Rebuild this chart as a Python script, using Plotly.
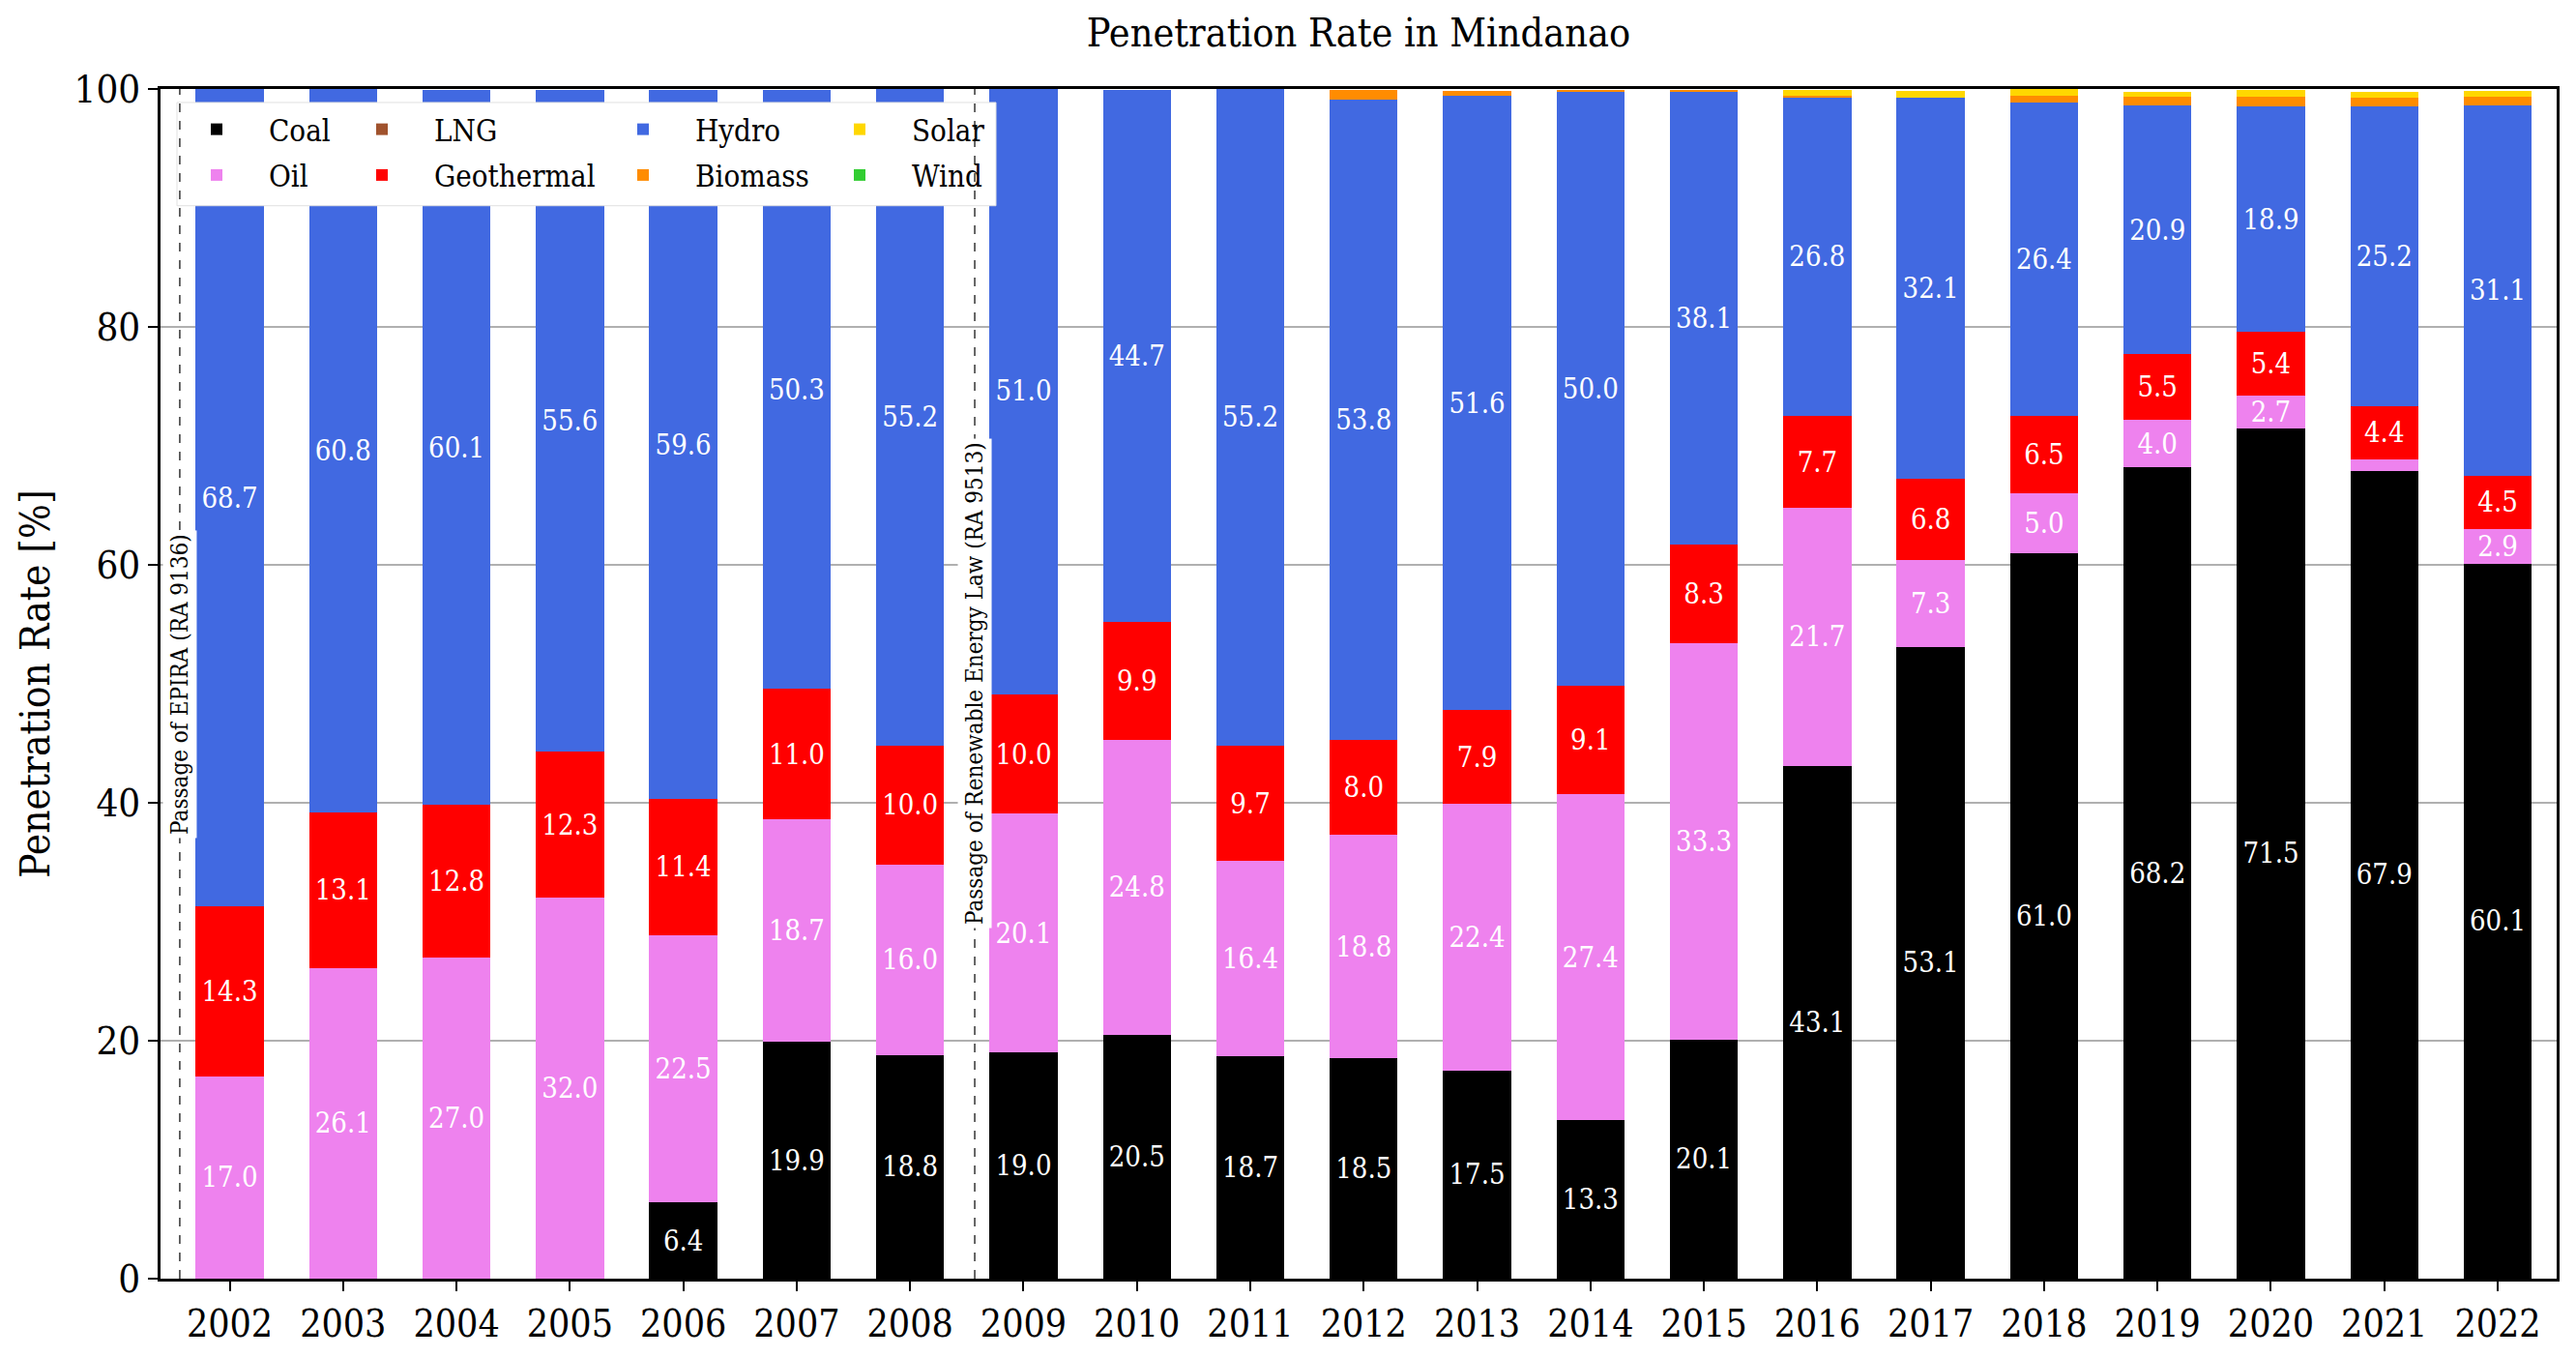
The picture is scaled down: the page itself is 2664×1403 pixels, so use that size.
import plotly.graph_objects as go

years = list(range(2002, 2023))
coal = [0, 0, 0, 0, 6.4, 19.9, 18.8, 19.0, 20.5, 18.7, 18.5, 17.5, 13.3, 20.1, 43.1, 53.1, 61.0, 68.2, 71.5, 67.9, 60.1]
oil = [17.0, 26.1, 27.0, 32.0, 22.5, 18.7, 16.0, 20.1, 24.8, 16.4, 18.8, 22.4, 27.4, 33.3, 21.7, 7.3, 5.0, 4.0, 2.7, 1.0, 2.9]
lng = [0] * 21
geothermal = [14.3, 13.1, 12.8, 12.3, 11.4, 11.0, 10.0, 10.0, 9.9, 9.7, 8.0, 7.9, 9.1, 8.3, 7.7, 6.8, 6.5, 5.5, 5.4, 4.4, 4.5]
hydro = [68.7, 60.8, 60.1, 55.6, 59.6, 50.3, 55.2, 51.0, 44.7, 55.2, 53.8, 51.6, 50.0, 38.1, 26.8, 32.1, 26.4, 20.9, 18.9, 25.2, 31.1]
biomass = [0, 0, 0, 0, 0, 0, 0, 0, 0, 0, 0.8, 0.4, 0.15, 0.15, 0.1, 0, 0.57, 0.73, 0.81, 0.73, 0.73]
solar = [0, 0, 0, 0, 0, 0, 0, 0, 0, 0, 0, 0, 0, 0, 0.5, 0.55, 0.55, 0.46, 0.62, 0.54, 0.54]
wind = [0] * 21

series = [
    ("Coal", coal, "#000000", "legend"),
    ("Oil", oil, "#ee82ee", "legend"),
    ("LNG", lng, "#a0522d", "legend2"),
    ("Geothermal", geothermal, "#ff0000", "legend2"),
    ("Hydro", hydro, "#4169e1", "legend3"),
    ("Biomass", biomass, "#ff8c00", "legend3"),
    ("Solar", solar, "#ffd700", "legend4"),
    ("Wind", wind, "#32cd32", "legend4"),
]

events_x = [2001.56, 2008.57]
events_text = ["Passage of EPIRA (RA 9136)", "Passage of Renewable Energy Law (RA 9513)"]

FONT = "DejaVu Serif Condensed, DejaVu Serif, serif"

fig = go.Figure()
for name, vals, color, leg in series:
    txt = [f"{v:.1f}" if v > 2 else "" for v in vals]
    fig.add_trace(go.Bar(
        x=years, y=vals, name=name, width=0.6,
        marker=dict(color=color, line=dict(width=0)),
        text=txt, textposition="inside", insidetextanchor="middle",
        textangle=0, textfont=dict(color="white", size=29, family=FONT),
        legend=leg, legendgroup=name, hoverinfo="skip",
    ))

W, H = 2664, 1403
L, R, T, B = 166, 20, 92, 78
pw = W - L - R
ph = H - T - B

def px2paperx(px):
    return (px - L) / pw

def py2papery(py):
    return 1 - (py - T) / ph

legend_cols = [170, 341, 611, 835]
leg_common = dict(
    font=dict(family=FONT, size=31, color="black"),
    bgcolor="rgba(0,0,0,0)", borderwidth=0,
    orientation="v", xanchor="left", yanchor="top",
    traceorder="grouped", tracegroupgap=4, itemwidth=98,
    y=py2papery(107),
)
layout_legends = {}
for i, cx in enumerate(legend_cols):
    key = "legend" if i == 0 else f"legend{i+1}"
    layout_legends[key] = dict(leg_common, x=px2paperx(cx))

shapes = []
# legend background box
bx0, bx1, by0, by1 = 183, 1030, 106, 213
shapes.append(dict(type="rect", xref="paper", yref="paper",
                   x0=px2paperx(bx0), x1=px2paperx(bx1),
                   y0=py2papery(by1), y1=py2papery(by0),
                   fillcolor="white", line=dict(color="#e0e0e0", width=1), layer="above"))
for ex in events_x:
    shapes.append(dict(type="line", xref="x", yref="y", x0=ex, x1=ex, y0=0, y1=100,
                       line=dict(color="black", width=1.2, dash="dash"), layer="above"))

annotations = []
for ex, et in zip(events_x, events_text):
    annotations.append(dict(x=ex, y=50, xref="x", yref="y", text=et, showarrow=False,
                            textangle=-90, bgcolor="white", borderpad=3,
                            font=dict(family=FONT, size=24, color="black")))

fig.update_layout(
    width=W, height=H,
    margin=dict(l=L, r=R, t=T, b=B),
    barmode="stack",
    plot_bgcolor="white", paper_bgcolor="white",
    title=dict(text="Penetration Rate in Mindanao", x=(L + pw / 2) / W, xanchor="center",
               y=1 - 34 / H, yanchor="middle",
               font=dict(family=FONT, size=41, color="black")),
    font=dict(family=FONT, color="black"),
    shapes=shapes, annotations=annotations,
    uniformtext=dict(minsize=29, mode="show"),
    **layout_legends,
)
fig.update_xaxes(range=[2001.39, 2022.52], tickmode="array", tickvals=years,
                 ticktext=[str(y) for y in years], tickfont=dict(family=FONT, size=39),
                 ticks="outside", ticklen=10, tickwidth=2, tickcolor="black",
                 showline=True, linecolor="black", linewidth=2.5, mirror=True,
                 showgrid=False, zeroline=False)
fig.update_yaxes(range=[0, 100], tickvals=[0, 20, 40, 60, 80, 100],
                 tickfont=dict(family=FONT, size=40),
                 ticks="outside", ticklen=10, tickwidth=2, tickcolor="black",
                 showline=True, linecolor="black", linewidth=2.5, mirror=True,
                 showgrid=True, gridcolor="#b0b0b0", gridwidth=1.6, zeroline=False,
                 title=dict(text="Penetration Rate [%]", font=dict(family=FONT, size=42), standoff=12))

fig.write_html("out.html")
